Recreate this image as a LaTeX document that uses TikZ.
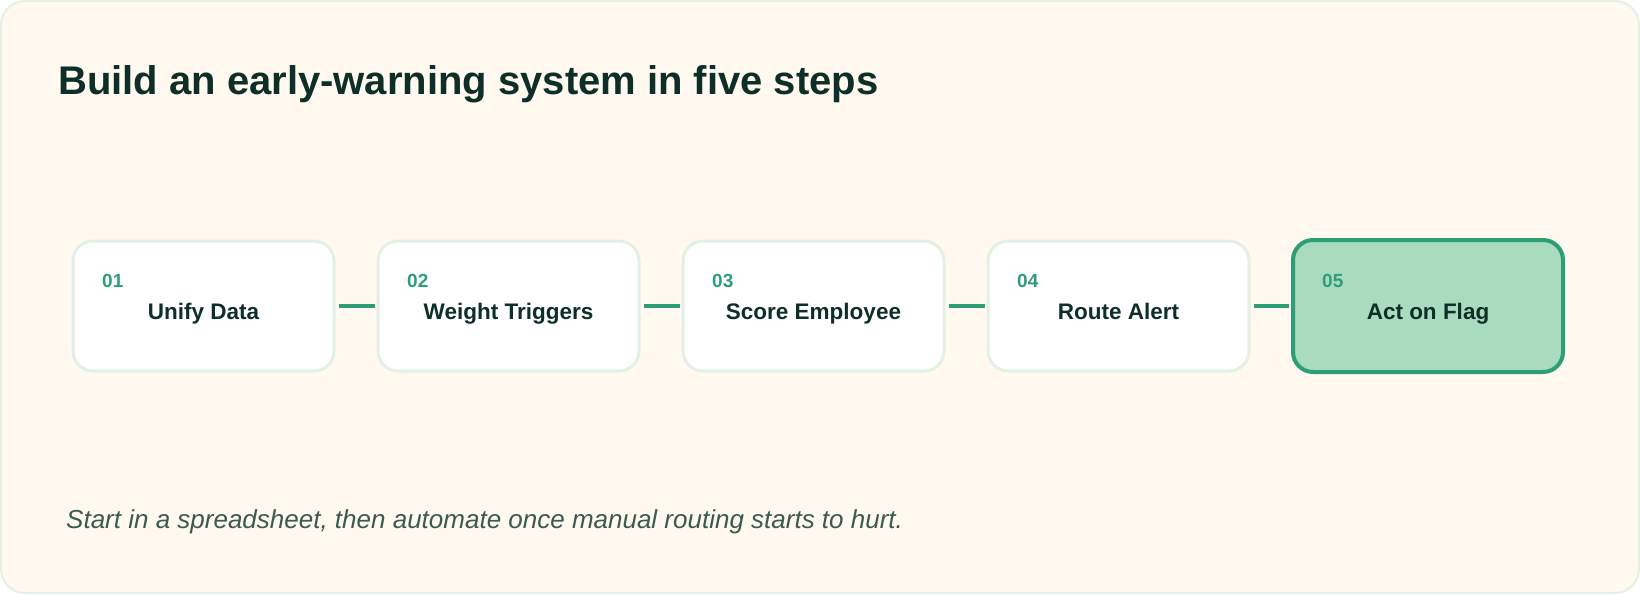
\documentclass[tikz,border=0pt]{standalone}
\usepackage{fontspec}
\setmainfont{Liberation Sans}
\definecolor{bgcream}{HTML}{FFF9F0}
\definecolor{paleline}{HTML}{E2F0E5}
\definecolor{darkink}{HTML}{0E2F27}
\definecolor{numgreen}{HTML}{2E9E78}
\definecolor{linkgreen}{HTML}{2E9E74}
\definecolor{flagfill}{HTML}{A9DBBF}
\definecolor{footink}{HTML}{3B5A50}
\begin{document}
\begin{tikzpicture}[x=1pt,y=-1pt,
  stepbox/.style={draw=paleline,line width=3pt,fill=white,rounded corners=20pt,inner sep=0pt},
  flagbox/.style={draw=linkgreen,line width=4pt,fill=flagfill,rounded corners=20pt,inner sep=0pt},
  numtext/.style={anchor=base west,inner sep=0pt,text=numgreen,font=\fontsize{19}{22}\selectfont\bfseries},
  labtext/.style={anchor=base,inner sep=0pt,text=darkink,font=\fontsize{22.5}{26}\selectfont\bfseries},
  link/.style={draw=linkgreen,line width=4pt}]
\useasboundingbox (0,0) rectangle (1640,594);
\draw[fill=bgcream,draw=paleline,line width=2pt,rounded corners=24pt] (1,1) rectangle (1639,593);
\node[anchor=base west,inner sep=0pt,text=darkink,font=\fontsize{40}{48}\selectfont\bfseries] (title) at (58,94) {Build an early-warning system in five steps};
% boxes
\node[stepbox,minimum width=261pt,minimum height=130pt] (b1) at (203.5,306) {};
\node[stepbox,minimum width=261pt,minimum height=130pt] (b2) at (508.5,306) {};
\node[stepbox,minimum width=261pt,minimum height=130pt] (b3) at (813.5,306) {};
\node[stepbox,minimum width=261pt,minimum height=130pt] (b4) at (1118.5,306) {};
\node[flagbox,minimum width=270pt,minimum height=132pt] (b5) at (1428,306) {};
% numbers
\node[numtext] (n1) at (102,287) {01};
\node[numtext] (n2) at (407,287) {02};
\node[numtext] (n3) at (712,287) {03};
\node[numtext] (n4) at (1017,287) {04};
\node[numtext] (n5) at (1322,287) {05};
% labels
\node[labtext] (l1) at (203.5,319) {Unify Data};
\node[labtext] (l2) at (508.5,319) {Weight Triggers};
\node[labtext] (l3) at (813.5,319) {Score Employee};
\node[labtext] (l4) at (1118.5,319) {Route Alert};
\node[labtext] (l5) at (1428,319) {Act on Flag};
% connectors
\draw[link] ([xshift=3pt]b1.east) -- ([xshift=-2pt]b2.west);
\draw[link] ([xshift=3pt]b2.east) -- ([xshift=-2pt]b3.west);
\draw[link] ([xshift=3pt]b3.east) -- ([xshift=-2pt]b4.west);
\draw[link] ([xshift=3pt]b4.east) -- ([xshift=-2pt]b5.west);
% footer
\node[anchor=base west,inner sep=0pt,text=footink,font=\fontsize{26}{31}\selectfont\itshape] (foot) at (66,528) {Start in a spreadsheet, then automate once manual routing starts to hurt.};
\end{tikzpicture}
\end{document}
